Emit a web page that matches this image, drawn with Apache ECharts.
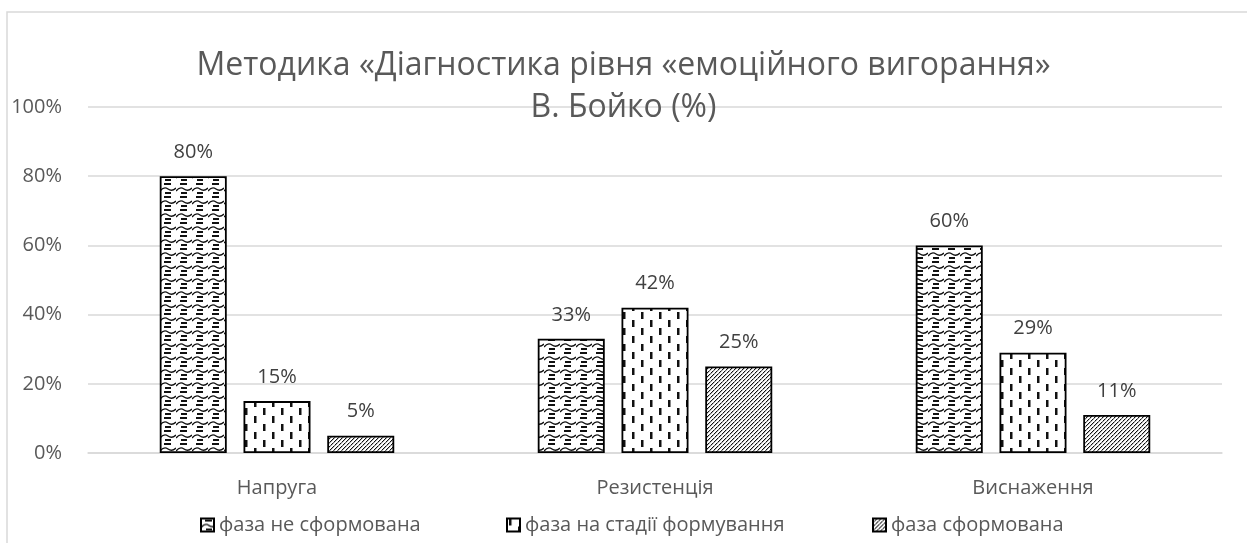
<!DOCTYPE html>
<html>
<head>
<meta charset="utf-8">
<script src="https://cdn.jsdelivr.net/npm/echarts@6/dist/echarts.min.js"></script>
<style>
  html, body { margin: 0; padding: 0; background: #fff; }
  #chart { width: 1247px; height: 543px; }
</style>
</head>
<body>
<div id="chart"></div>
<script>
// Categories and values (%)
const categories = ['Напруга', 'Резистенція', 'Виснаження'];
const seriesNames = ['фаза не сформована', 'фаза на стадії формування', 'фаза сформована'];
const notFormed = [80, 33, 60];
const forming = [15, 42, 29];
const formed = [5, 25, 11];
const yTicks = [0, 20, 40, 60, 80, 100];

const FONT = '"Open Sans", "Noto Sans", sans-serif';

// Hatch fills drawn on small canvases, tiled over the bars
function tile(w, h, draw) {
  const c = document.createElement('canvas');
  c.width = w; c.height = h;
  const ctx = c.getContext('2d');
  ctx.fillStyle = '#fff';
  ctx.fillRect(0, 0, w, h);
  ctx.fillStyle = '#111';
  ctx.strokeStyle = '#111';
  draw(ctx);
  return { image: c, repetition: 'repeat' };
}

// wave pattern
const wavePattern = tile(16, 13, ctx => {
  ctx.fillRect(4, 1, 7, 2);
  ctx.lineWidth = 1.3;
  ctx.beginPath();
  ctx.moveTo(0, 9);
  ctx.quadraticCurveTo(4, 4, 8, 7);
  ctx.quadraticCurveTo(12, 10, 16, 6);
  ctx.stroke();
  ctx.fillRect(5, 10, 6, 2);
});

// dashed vertical pattern
const dashPattern = tile(18, 16, ctx => {
  ctx.fillRect(2, 0, 2.5, 7);
  ctx.fillRect(11, 8, 2.5, 7);
});

// dotted upward diagonal pattern, drawn pixel by pixel
const diagPattern = tile(8, 8, ctx => {
  for (let k = 0; k < 8; k++) {
    const y = k;
    const x1 = 7 - k;
    const x2 = (11 - k) % 8;
    if (k % 3 !== 2) {
      ctx.fillStyle = '#111';
      ctx.fillRect(x1, y, 1, 1);
      ctx.fillRect(x2, y, 1, 1);
    } else {
      ctx.fillStyle = '#666';
      ctx.fillRect(x1, y, 1, 1);
      ctx.fillRect(x2, y, 1, 1);
    }
    ctx.fillStyle = '#bbb';
    ctx.fillRect((x1 + 1) % 8, y, 1, 1);
    ctx.fillRect((x2 + 1) % 8, y, 1, 1);
  }
});

const patterns = [wavePattern, dashPattern, diagPattern];
const values = [notFormed, forming, formed];

const chart = echarts.init(document.getElementById('chart'), null, { renderer: 'canvas' });

const legendLefts = [195, 501, 867];

chart.setOption({
  animation: false,
  backgroundColor: '#fff',
  textStyle: { fontFamily: FONT },
  title: {
    text: 'Методика «Діагностика рівня «емоційного вигорання»\nВ. Бойко (%)',
    left: 'center',
    top: 40,
    textStyle: {
      fontFamily: FONT,
      fontSize: 32,
      fontWeight: 'normal',
      color: '#595959',
      lineHeight: 42
    }
  },
  graphic: [{
    type: 'rect',
    shape: { x: 7, y: 12, width: 1270, height: 580 },
    style: { fill: 'none', stroke: '#d9d9d9', lineWidth: 1.5 },
    silent: true,
    z: -1
  }],
  legend: seriesNames.map((name, i) => ({
    data: [name],
    left: legendLefts[i],
    top: 510,
    icon: 'rect',
    itemWidth: 13,
    itemHeight: 13,
    textStyle: { fontFamily: FONT, fontSize: 20, color: '#595959' }
  })),
  grid: { left: 88, right: 25, top: 107, bottom: 90 },
  xAxis: {
    type: 'category',
    data: categories,
    axisLine: { lineStyle: { color: '#d9d9d9', width: 1.5 } },
    axisTick: { show: false },
    axisLabel: { fontFamily: FONT, fontSize: 20, color: '#595959', margin: 25 }
  },
  yAxis: {
    type: 'value',
    min: yTicks[0],
    max: yTicks[yTicks.length - 1],
    interval: 20,
    axisLine: { show: false },
    axisTick: { show: false },
    splitLine: { lineStyle: { color: '#d9d9d9', width: 1.5 } },
    axisLabel: { fontFamily: FONT, fontSize: 20, color: '#595959', margin: 26, formatter: '{value}%' }
  },
  series: seriesNames.map((name, i) => ({
    name: name,
    type: 'bar',
    data: values[i],
    barWidth: 67,
    barGap: '25%',
    itemStyle: { color: patterns[i], borderColor: '#000', borderWidth: 1.8 },
    label: {
      show: true,
      position: 'top',
      distance: 14,
      formatter: '{c}%',
      fontFamily: FONT,
      fontSize: 20,
      color: '#404040'
    }
  }))
});
</script>
</body>
</html>
